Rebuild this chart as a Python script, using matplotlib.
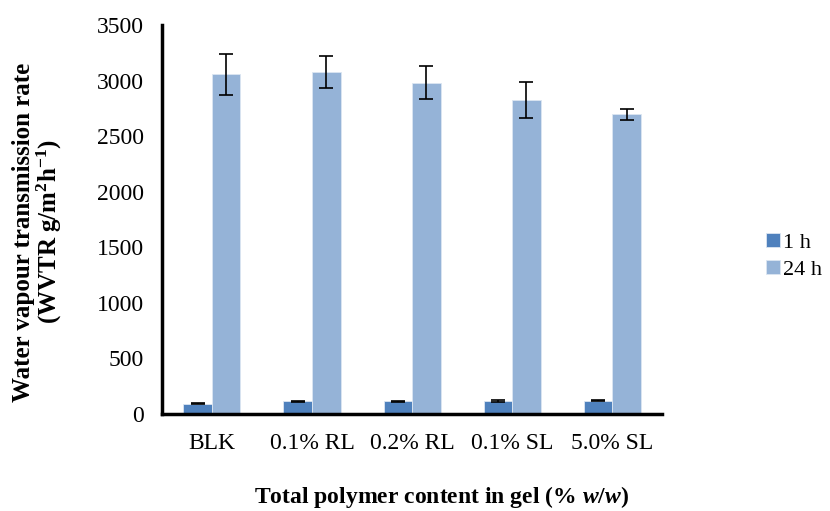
import numpy as np
import matplotlib
matplotlib.use("Agg")
import matplotlib.pyplot as plt

plt.rcParams['font.family'] = ['Liberation Serif', 'DejaVu Serif']
plt.rcParams['mathtext.fontset'] = 'custom'
plt.rcParams['mathtext.rm'] = 'Liberation Serif'
plt.rcParams['mathtext.bf'] = 'Liberation Serif:bold'
plt.rcParams['mathtext.it'] = 'Liberation Serif:italic:bold'

categories = ['BLK', '0.1% RL', '0.2% RL', '0.1% SL', '5.0% SL']
wvtr_1h = [92, 112, 114, 116, 120]
err_1h = [6, 5, 5, 6, 5]
wvtr_24h = [3055, 3080, 2982, 2826, 2697]
err_24h = [185, 145, 145, 160, 50]

fig = plt.figure(figsize=(8.3, 5.11), dpi=100)
ax = fig.add_axes([0.195, 0.19, 0.603, 0.761])

x = np.arange(len(categories))
w = 0.285
ax.bar(x - w / 2, wvtr_1h, w, color='#4F81BD', edgecolor='#DCE6F2', linewidth=0.6,
       yerr=err_1h, error_kw=dict(ecolor='black', elinewidth=1.2, capsize=5, capthick=1.2),
       label='1 h')
ax.bar(x + w / 2, wvtr_24h, w, color='#95B3D7', edgecolor='#DCE6F2', linewidth=0.6,
       yerr=err_24h, error_kw=dict(ecolor='black', elinewidth=1.2, capsize=5, capthick=1.2),
       label='24 h')

ax.set_xlim(-0.5, 4.5)
ax.set_ylim(0, 3500)
ax.set_yticks(np.arange(0, 3501, 500))
ax.set_xticks(x)
ax.set_xticklabels(categories)
ax.tick_params(length=0, labelsize=17)
ax.tick_params(axis='x', pad=14)
ax.tick_params(axis='y', pad=13)
for s in ['top', 'right']:
    ax.spines[s].set_visible(False)
for s in ['left', 'bottom']:
    ax.spines[s].set_linewidth(2.5)

ax.legend(loc='center left', bbox_to_anchor=(1.19, 0.405), frameon=False, fontsize=16,
          handlelength=0.6, handleheight=0.6, handletextpad=0.15, labelspacing=0.3,
          borderaxespad=0)

fig.text(0.046, 0.546, 'Water vapour transmission rate\n(WVTR g/m$^{\\mathbf{2}}$h$^{\\mathbf{-1}}$)',
         rotation=90, ha='center', va='center', fontsize=18, fontweight='bold',
         multialignment='center', linespacing=1.0)
fig.text(0.532, 0.028, 'Total polymer content in gel (% $\\mathit{w}$/$\\mathit{w}$)',
         ha='center', va='center', fontsize=17, fontweight='bold')

fig.savefig('out.png', dpi=100)
